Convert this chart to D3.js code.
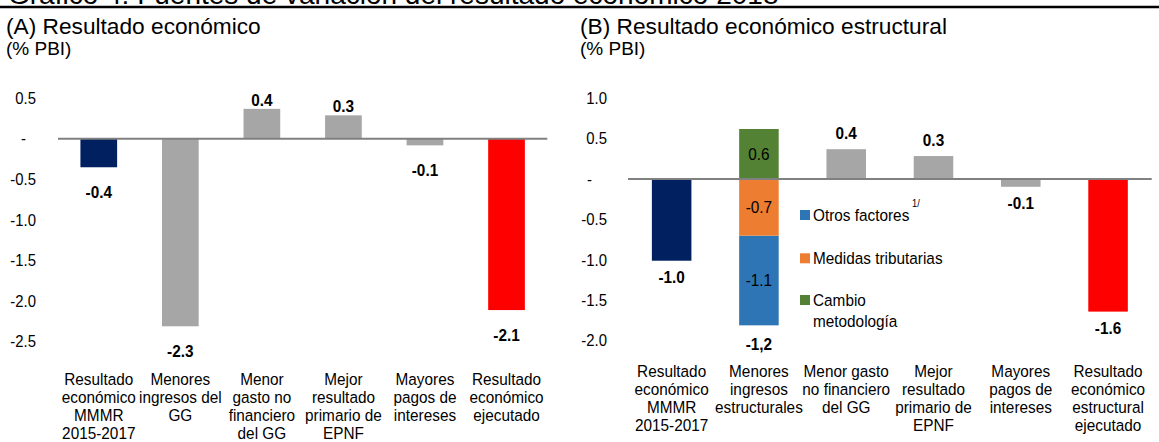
<!DOCTYPE html>
<html><head><meta charset="utf-8">
<script src="https://cdn.jsdelivr.net/npm/d3@7"></script>
<style>
body{margin:0;background:#fff;}
svg{display:block;}
text{font-family:"Liberation Sans",Arial,sans-serif;fill:#000;}
</style></head><body>
<svg id="c" width="1159" height="442"></svg>
<script>
// ---------- data ----------
const mainTitle = "Gráfico 4: Fuentes de variación del resultado económico 2018";
const titleA = "(A) Resultado económico";
const titleB = "(B) Resultado económico estructural";
const unitLabel = "(% PBI)";

const categoriesA = [["Resultado","económico","MMMR","2015-2017"],["Menores","ingresos del","GG"],["Menor","gasto no","financiero","del GG"],["Mejor","resultado","primario de","EPNF"],["Mayores","pagos de","intereses"],["Resultado","económico","ejecutado"]];
const valuesA = [-0.35, -2.31, 0.37, 0.29, -0.08, -2.11];
const valueLabelsA = ["-0.4","-2.3","0.4","0.3","-0.1","-2.1"];
const colorsA = ["#002060","#A6A6A6","#A6A6A6","#A6A6A6","#A6A6A6","#FF0000"];
const ticksA = [0.5, 0, -0.5, -1.0, -1.5, -2.0, -2.5];

const categoriesB = [["Resultado","económico","MMMR","2015-2017"],["Menores","ingresos","estructurales"],["Menor gasto","no financiero","del GG"],["Mejor","resultado","primario de","EPNF"],["Mayores","pagos de","intereses"],["Resultado","económico","estructural","ejecutado"]];
const valuesB = [-1.01, null, 0.37, 0.285, -0.095, -1.64];
const valueLabelsB = ["-1.0","-1,2","0.4","0.3","-0.1","-1.6"];
const colorsB = ["#002060",null,"#A6A6A6","#A6A6A6","#A6A6A6","#FF0000"];
const ticksB = [1.0, 0.5, 0, -0.5, -1.0, -1.5, -2.0];

const stackSeries = ["Otros factores","Medidas tributarias","Cambio metodología"];
const stackValues = [-1.11, -0.70, 0.62];
const stackLabels = ["-1.1","-0.7","0.6"];
const stackColors = ["#2E75B6","#ED7D31","#548235"];
const stackOrder = [1, 0, 2]; // Medidas next to zero, Otros below it
const stackIndex = 1;

// ---------- drawing ----------
const svg = d3.select("#c");
const SX = 0.93; // condensed look of the original (Arial Narrow-like)
const FS = 16.5;
const fmt = v => v === 0 ? "-" : d3.format(".1f")(v).replace("−","-");

function nt(parent, x, y, str, o = {}){
  return parent.append("text")
    .attr("transform", `translate(${x},${y}) scale(${SX},1)`)
    .attr("font-size", o.size || FS)
    .attr("font-weight", o.weight || "normal")
    .attr("text-anchor", o.anchor || "middle")
    .attr("dominant-baseline", "central")
    .text(str);
}

svg.append("text").attr("x",8).attr("y",4).attr("font-size",28).text(mainTitle);
svg.append("line").attr("x1",0).attr("x2",1159).attr("y1",7).attr("y2",7).attr("stroke","#000").attr("stroke-width",2.5);

function panel(o){
  const g = svg.append("g");
  g.append("text").attr("x",o.tx).attr("y",33.5).attr("font-size",22.7).text(o.title);
  g.append("text").attr("x",o.tx).attr("y",55).attr("font-size",19).text(unitLabel);
  const y = d3.scaleLinear().domain(o.ydom).range(o.yrange);
  const x = d3.scaleBand().domain(d3.range(o.cats.length)).range(o.xrange).paddingInner(o.pad).paddingOuter(o.pad/2);
  const ax = g.append("g").attr("transform",`translate(${o.axX},0)`)
    .call(d3.axisLeft(y).tickValues(o.ticks).tickSize(0).tickPadding(0).tickFormat(fmt));
  ax.select(".domain").remove();
  ax.selectAll("text").attr("font-size",16).attr("font-family",null).attr("fill","#000")
    .attr("transform",`scale(${SX},1)`)
    .attr("x", d => d === 0 ? -o.dashOff/SX : 0);
  // zero line
  g.append("line").attr("class","zero").attr("x1",o.xrange[0]).attr("x2",o.xrange[1]).attr("y1",y(0)).attr("y2",y(0))
    .attr("stroke","#808080").attr("stroke-width",2);
  // category labels
  o.cats.forEach((lines,i)=>{
    lines.forEach((s,k)=> nt(g, x(i)+x.bandwidth()/2, o.catY + k*o.catDy, s));
  });
  return {g,x,y};
}

// Panel A
(function(){
  const {g,x,y} = panel({title:titleA,tx:6,ydom:[-2.5,0.5],yrange:[341.7,98.3],xrange:[58,547.3],pad:0.55,axX:36,dashOff:10,ticks:ticksA,cats:categoriesA,catY:379,catDy:18.2});
  const idx = d3.range(valuesA.length);
  g.selectAll("rect.b").data(idx).join("rect").attr("class","b")
    .attr("x",i=>x(i)).attr("width",x.bandwidth())
    .attr("y",i=>y(Math.max(0,valuesA[i]))).attr("height",i=>Math.abs(y(valuesA[i])-y(0)))
    .attr("fill",i=>colorsA[i]);
  g.select("line.zero").raise();
  idx.forEach(i=>{
    nt(g, x(i)+x.bandwidth()/2, valuesA[i]<0 ? y(valuesA[i])+25 : y(valuesA[i])-9, valueLabelsA[i], {weight:"bold"});
  });
})();

// Panel B
(function(){
  const {g,x,y} = panel({title:titleB,tx:580,ydom:[-2,1],yrange:[340.7,98.3],xrange:[628,1151.7],pad:0.547,axX:607,dashOff:15,ticks:ticksB,cats:categoriesB,catY:371.7,catDy:18});
  const idx = d3.range(valuesB.length);
  const simple = idx.filter(i=>valuesB[i]!==null);
  g.selectAll("rect.b").data(simple).join("rect").attr("class","b")
    .attr("x",i=>x(i)).attr("width",x.bandwidth())
    .attr("y",i=>y(Math.max(0,valuesB[i]))).attr("height",i=>Math.abs(y(valuesB[i])-y(0)))
    .attr("fill",i=>colorsB[i]);
  // stacked bar
  const row = {}; stackSeries.forEach((s,k)=>row[s]=stackValues[k]);
  const st = d3.stack().keys(stackSeries).order(()=>stackOrder).offset(d3.stackOffsetDiverging)([row]);
  const cx = x(stackIndex)+x.bandwidth()/2;
  st.forEach((s,k)=>{
    const seg = s[0];
    g.append("rect").attr("x",x(stackIndex)).attr("width",x.bandwidth())
      .attr("y",y(Math.max(seg[0],seg[1]))).attr("height",Math.abs(y(seg[0])-y(seg[1])))
      .attr("fill",stackColors[k]);
    nt(g, cx, (y(seg[0])+y(seg[1]))/2, stackLabels[k]);
  });
  const stackMin = d3.min(st, s=>Math.min(s[0][0],s[0][1]));
  g.select("line.zero").raise();
  idx.forEach(i=>{
    let yy;
    if(valuesB[i]===null) yy = y(stackMin)+19;
    else yy = valuesB[i]<0 ? y(valuesB[i])+17 : y(valuesB[i])-16;
    nt(g, x(i)+x.bandwidth()/2, yy, valueLabelsB[i], {weight:"bold"});
  });
  // legend
  const legY = [215, 258.3, 300];
  const legLines = [["Otros factores"],["Medidas tributarias"],["Cambio","metodología"]];
  stackSeries.forEach((s,k)=>{
    g.append("rect").attr("x",800).attr("y",legY[k]-5).attr("width",10).attr("height",10).attr("fill",stackColors[k]);
    legLines[k].forEach((t,j)=> nt(g, 813, legY[k]+j*21.7, t, {anchor:"start"}));
  });
  nt(g, 912, 203, "1/", {anchor:"start", size:10});
})();
</script>
</body></html>
